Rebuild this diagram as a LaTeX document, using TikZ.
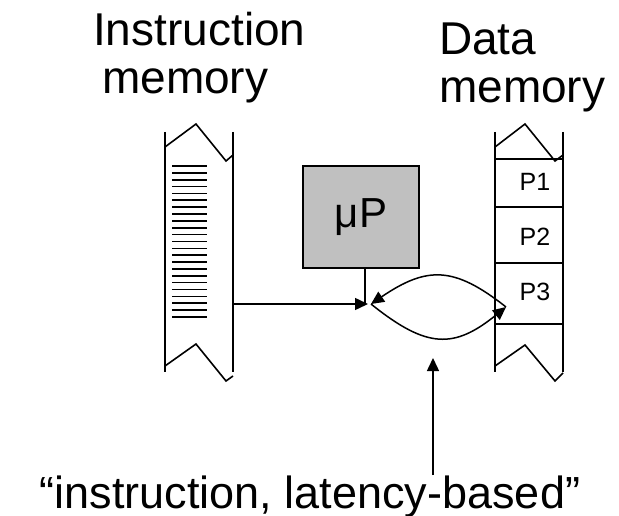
\documentclass[tikz,border=0pt]{standalone}
\usepackage{fontspec}
\setmainfont{Liberation Sans}
\usetikzlibrary{arrows.meta}
\definecolor{boxgray}{RGB}{192,192,192}
\begin{document}
\begin{tikzpicture}[x=1pt,y=-1pt,
  wire/.style={line width=1.5pt},
  strip/.style={line width=1.6pt},
  stripe/.style={line width=1.6pt},
  tipped/.style={-{Triangle[length=13pt,width=12pt]}},
  title/.style={font=\fontsize{46}{48.5}\selectfont, align=left, inner sep=0pt, anchor=base west},
  cell/.style={font=\fontsize{25}{30}\selectfont, inner sep=0pt, anchor=base},
  cpu/.style={draw, line width=1.5pt, fill=boxgray, minimum width=116pt, minimum height=102pt, inner sep=0pt, font=\fontsize{42}{48}\selectfont},
  note/.style={font=\fontsize{45}{50}\selectfont, inner sep=0pt, anchor=base}
]
\useasboundingbox (0,0) rectangle (619,516);

% titles (base anchor = last line of a multi-line node)
\node[title] (imemtitle) at (93,94) {Instruction\\\hspace*{9pt}memory};
\node[title] (dmemtitle) at (439,103) {Data\\memory};

% instruction memory strip
\draw[strip] (165,132) -- (165,372);
\draw[strip] (233,132) -- (233,372);
\draw[strip] (165,147) -- (196,124) -- (226,161) -- (233,155);
\draw[strip] (165,366) -- (196,344) -- (226,381) -- (233,376);
\foreach \i in {0,...,22} {
  \draw[stripe] (172,166+\i*6.86) -- (207,166+\i*6.86);
}

% data memory strip
\draw[strip] (495,132) -- (495,372);
\draw[strip] (563,132) -- (563,372);
\draw[strip] (495,147) -- (525,124) -- (555,161) -- (563,155);
\draw[strip] (495,366) -- (525,345) -- (555,381) -- (563,373);
\foreach \yy in {159,207,263,324} {
  \draw[strip] (495,\yy) -- (563,\yy);
}
\node[cell] (p1) at (535,190) {P1};
\node[cell] (p2) at (535,245) {P2};
\node[cell] (p3) at (535,300) {P3};

% processor
\node[cpu] (up) at (361,217) {μP};

% connectors
\coordinate (imemout) at (233,304);
\coordinate (J) at (368,304);
\coordinate (Lt) at (371,304);
\coordinate (Rt) at (506,307);
\coordinate (lensbot) at (433,358);

\draw[wire, tipped] (imemout) -- (J);
\draw[wire] (up.south -| 365,0) -- (365,304);
\draw[wire, tipped] (Rt) .. controls (454,266) and (427,266) .. (Lt);
\draw[wire, tipped] (Lt) .. controls (427,349) and (454,349) .. (Rt);

% bottom label
\node[note] (lat) at (310,508) {“instruction, latency-based”};
\draw[wire, tipped] (lat.north -| lensbot) -- (lensbot);
\end{tikzpicture}
\end{document}
